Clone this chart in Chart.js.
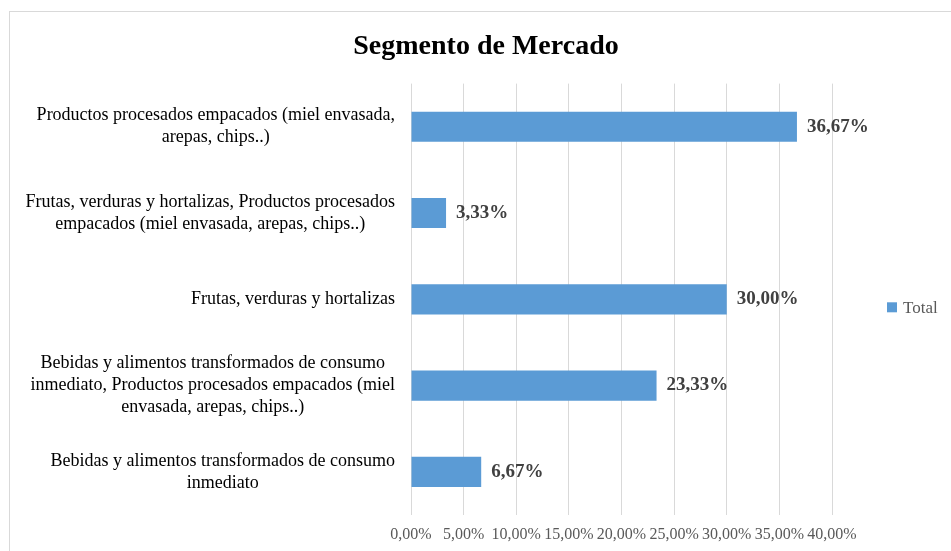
<!DOCTYPE html>
<html lang="es">
<head>
    <meta charset="UTF-8">
    <title>Segmento de Mercado</title>
    <script src="https://cdn.jsdelivr.net/npm/chart.js"></script>
    <style>
        html, body {
            margin: 0;
            padding: 0;
            background: #ffffff;
            overflow: hidden;
        }

        .marco {
            position: absolute;
            left: 9px;
            top: 11px;
            width: 960px;
            height: 560px;
            border: 1px solid #d9d9d9;
        }

        #grafico {
            position: absolute;
            left: 0;
            top: 0;
        }
    </style>
</head>
<body>

<div class="marco"></div>
<canvas id="grafico" width="951" height="551"></canvas>

<script>
    // Categorias (de arriba hacia abajo)
    const categorias = [
        ['Productos procesados empacados (miel envasada,', 'arepas, chips..)'],
        ['Frutas, verduras y hortalizas, Productos procesados', 'empacados (miel envasada, arepas, chips..)'],
        'Frutas, verduras y hortalizas',
        ['Bebidas y alimentos transformados de consumo', 'inmediato, Productos procesados empacados (miel', 'envasada, arepas, chips..)'],
        ['Bebidas y alimentos transformados de consumo', 'inmediato']
    ];

    // Porcentajes
    const valores = [36.67, 3.33, 30.00, 23.33, 6.67];
    const serie = 'Total';

    // Eje X
    const ejeMin = 0;
    const ejeMax = 40;
    const ejePaso = 5;

    const fuente = '"Liberation Serif", "Times New Roman", serif';
    const azul = '#5b9bd5';

    function formato(v) {
        return v.toFixed(2).replace('.', ',') + '%';
    }

    // Etiquetas de categoria, valores al final de cada barra y leyenda
    const etiquetasPlugin = {
        id: 'etiquetas',
        afterDatasetsDraw(chart) {
            const ctx = chart.ctx;
            const area = chart.chartArea;
            const yScale = chart.scales.y;
            const meta = chart.getDatasetMeta(0);
            ctx.save();

            ctx.font = 'bold 19px ' + fuente;
            ctx.fillStyle = '#404040';
            ctx.textAlign = 'left';
            ctx.textBaseline = 'middle';
            meta.data.forEach((barra, i) => {
                ctx.fillText(formato(valores[i]), barra.x + 10, barra.y);
            });

            ctx.font = '18px ' + fuente;
            ctx.fillStyle = '#000000';
            ctx.textAlign = 'center';
            const derecha = area.left - 16;
            const alto = 22;
            categorias.forEach((etiqueta, i) => {
                const lineas = Array.isArray(etiqueta) ? etiqueta : [etiqueta];
                const ancho = Math.max(...lineas.map(l => ctx.measureText(l).width));
                const cx = derecha - ancho / 2;
                const cy = yScale.getPixelForValue(i);
                lineas.forEach((l, j) => {
                    ctx.fillText(l, cx, cy + (j - (lineas.length - 1) / 2) * alto);
                });
            });

            // leyenda
            const ly = (area.top + area.bottom) / 2 + 8;
            const lx = area.right + 55;
            ctx.fillStyle = azul;
            ctx.fillRect(lx, ly - 5, 10, 10);
            ctx.font = '17px ' + fuente;
            ctx.fillStyle = '#595959';
            ctx.textAlign = 'left';
            ctx.fillText(serie, lx + 16, ly + 1);

            ctx.restore();
        }
    };

    const ctx = document.getElementById('grafico').getContext('2d');
    const grafico = new Chart(ctx, {
        type: 'bar',
        data: {
            labels: categorias,
            datasets: [{
                label: serie,
                data: valores,
                backgroundColor: azul,
                borderWidth: 0,
                barPercentage: 0.35,
                categoryPercentage: 1.0
            }]
        },
        options: {
            indexAxis: 'y',
            responsive: false,
            animation: false,
            layout: {
                padding: { left: 140, right: 119, top: 0, bottom: 0 }
            },
            scales: {
                x: {
                    min: ejeMin,
                    max: ejeMax,
                    ticks: {
                        stepSize: ejePaso,
                        padding: 10,
                        maxRotation: 0,
                        minRotation: 0,
                        autoSkip: false,
                        color: '#595959',
                        font: { family: fuente, size: 16 },
                        callback: v => formato(v)
                    },
                    grid: {
                        color: '#d9d9d9',
                        drawTicks: false
                    },
                    border: { display: false },
                    afterFit: scale => { scale.height = 36; }
                },
                y: {
                    ticks: { display: false },
                    grid: { display: false },
                    border: { display: false },
                    afterFit: scale => { scale.width = 271; }
                }
            },
            plugins: {
                title: {
                    display: true,
                    text: 'Segmento de Mercado',
                    color: '#000000',
                    font: { family: fuente, size: 28, weight: 'bold' },
                    padding: { top: 30, bottom: 20 }
                },
                legend: { display: false },
                tooltip: { enabled: false }
            }
        },
        plugins: [etiquetasPlugin]
    });
</script>

</body>
</html>
